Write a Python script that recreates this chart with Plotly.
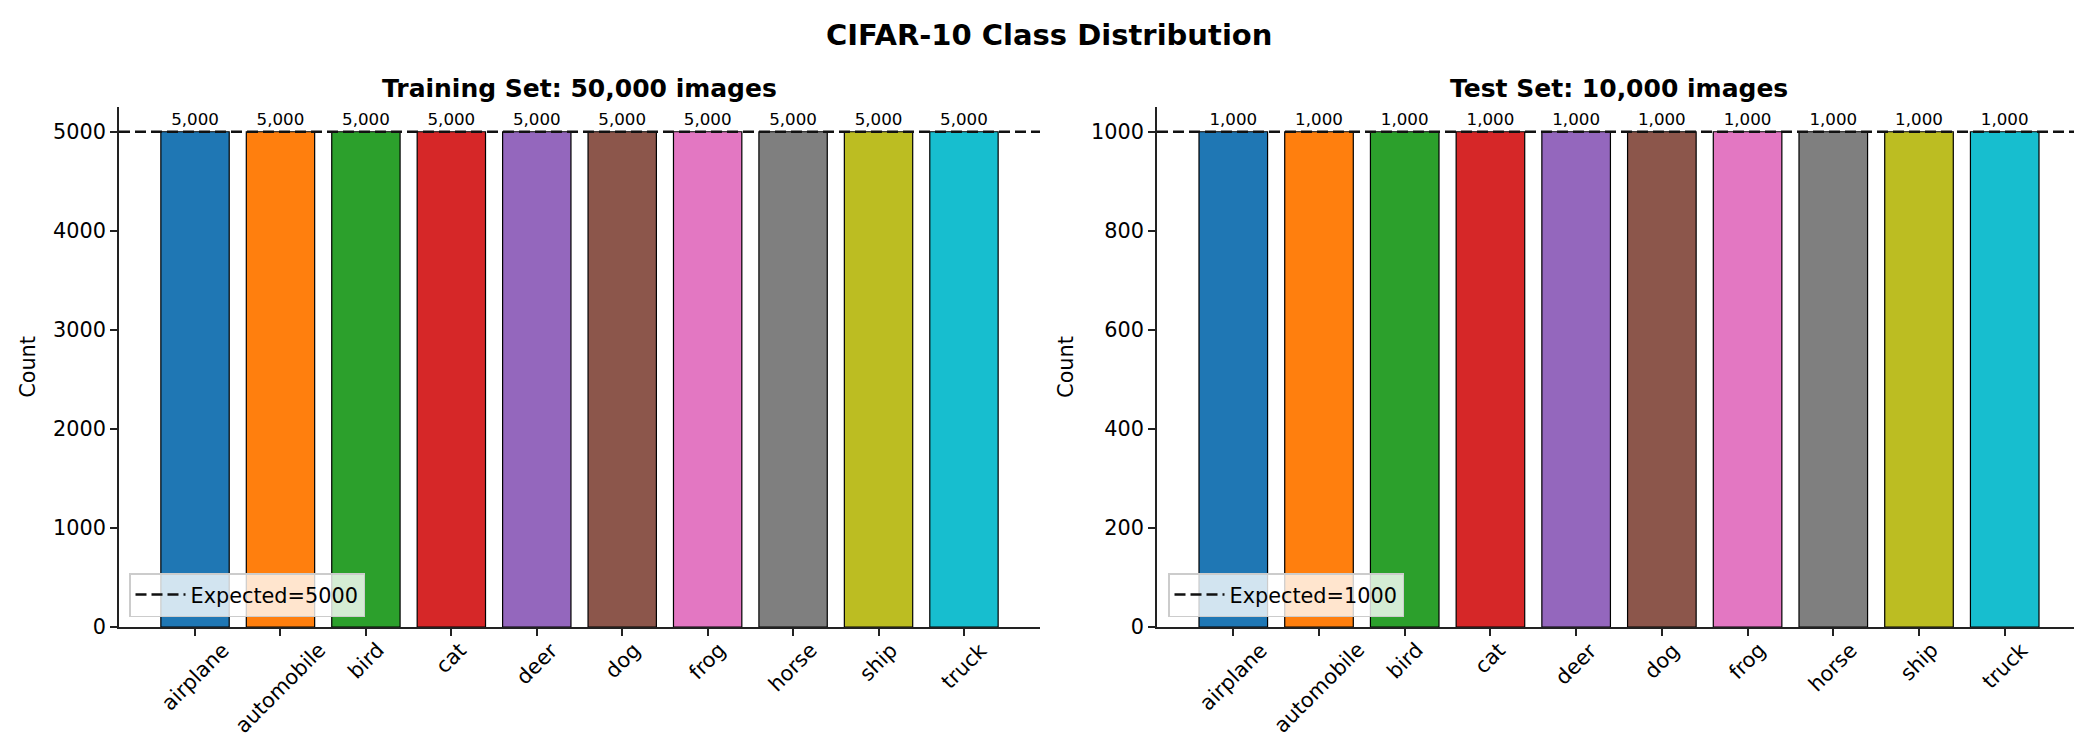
import plotly.graph_objects as go

categories = ["airplane", "automobile", "bird", "cat", "deer", "dog", "frog", "horse", "ship", "truck"]
train_counts = [5000, 5000, 5000, 5000, 5000, 5000, 5000, 5000, 5000, 5000]
test_counts = [1000, 1000, 1000, 1000, 1000, 1000, 1000, 1000, 1000, 1000]
train_expected = 5000
test_expected = 1000
train_yticks = [0, 1000, 2000, 3000, 4000, 5000]
test_yticks = [0, 200, 400, 600, 800, 1000]
suptitle = "CIFAR-10 Class Distribution"
train_title = "Training Set: 50,000 images"
test_title = "Test Set: 10,000 images"
colors = ["#1f77b4", "#ff7f0e", "#2ca02c", "#d62728", "#9467bd",
          "#8c564b", "#e377c2", "#7f7f7f", "#bcbd22", "#17becf"]

W, H = 2082, 740
L, R, T, B = 111, 2073, 99, 619
FONT = "DejaVu Sans"
TICK = 20.8

def px2paper(x):
    return (x - L) / (R - L)

dom1 = [0, px2paper(1032)]
dom2 = [px2paper(1149), 1]

fig = go.Figure()
n = len(categories)
xs = list(range(n))
pad = 0.4 + 0.05 * (n - 1 + 0.8)
xrange = [-pad, n - 1 + pad]

for counts, xa, ya in [(train_counts, "x", "y"), (test_counts, "x2", "y2")]:
    fig.add_trace(go.Bar(
        x=xs, y=counts, xaxis=xa, yaxis=ya, width=0.8,
        marker=dict(color=colors, line=dict(color="black", width=1.2)),
        text=[f"{v:,}" for v in counts], textposition="outside",
        textfont=dict(family=FONT, size=16.7, color="black"),
        constraintext="none", cliponaxis=False, showlegend=False,
        hoverinfo="skip",
    ))

for exp, xa, ya, lg in [(train_expected, "x", "y", "legend"), (test_expected, "x2", "y2", "legend2")]:
    fig.add_shape(type="line", xref=f"{xa} domain", x0=0, x1=1, yref=ya, y0=exp, y1=exp,
                  line=dict(color="#111111", width=2.6, dash="11px,5px"),
                  showlegend=True, name=f"Expected={exp}", legend=lg, layer="above")

axis_common = dict(showline=True, linecolor="#222222", linewidth=1.6, ticks="outside",
                   ticklen=7, tickwidth=1.6, tickcolor="#222222", showgrid=False, zeroline=False,
                   tickfont=dict(family=FONT, size=TICK, color="black"))

legend_common = dict(xanchor="left", yanchor="bottom", itemwidth=50,
                     bgcolor="rgba(255,255,255,0.8)", bordercolor="#cccccc", borderwidth=1.5,
                     font=dict(family=FONT, size=TICK, color="black"))

fig.update_layout(
    width=W, height=H,
    margin=dict(l=L, r=W - R, t=T, b=H - B, autoexpand=False),
    paper_bgcolor="white", plot_bgcolor="white",
    font=dict(family=FONT, color="black"),
    xaxis=dict(domain=dom1, range=xrange, tickvals=xs, showticklabels=False, anchor="y", **axis_common),
    xaxis2=dict(domain=dom2, range=xrange, tickvals=xs, showticklabels=False, anchor="y2", **axis_common),
    yaxis=dict(range=[0, train_expected * 1.05], tickvals=train_yticks, anchor="x",
               title=dict(text="Count", font=dict(family=FONT, size=TICK), standoff=12), **axis_common),
    yaxis2=dict(range=[0, test_expected * 1.05], tickvals=test_yticks, anchor="x2",
                title=dict(text="Count", font=dict(family=FONT, size=TICK), standoff=12), **axis_common),
    legend=dict(x=px2paper(121), y=(B - 609) / (B - T), **legend_common),
    legend2=dict(x=px2paper(1160), y=(B - 609) / (B - T), **legend_common),
    showlegend=True,
)

annotations = [
    dict(text=f"<b>{suptitle}</b>", xref="paper", yref="paper", x=px2paper(W / 2), y=1,
         yshift=T - 27, xanchor="center", yanchor="middle", showarrow=False,
         font=dict(family=FONT, size=29, color="black")),
    dict(text=f"<b>{train_title}</b>", xref="x domain", yref="paper", x=0.5, y=1,
         yshift=T - 80, xanchor="center", yanchor="middle", showarrow=False,
         font=dict(family=FONT, size=25, color="black")),
    dict(text=f"<b>{test_title}</b>", xref="x2 domain", yref="paper", x=0.5, y=1,
         yshift=T - 80, xanchor="center", yanchor="middle", showarrow=False,
         font=dict(family=FONT, size=25, color="black")),
]
for xa in ["x", "x2"]:
    for i, c in enumerate(categories):
        annotations.append(dict(text=c, xref=xa, yref="paper", x=i, y=0, yshift=-10,
                                xanchor="center", yanchor="top", textangle=-45, showarrow=False,
                                borderpad=0,
                                font=dict(family=FONT, size=TICK, color="black")))
fig.update_layout(annotations=annotations)

fig.write_html("out.html")
